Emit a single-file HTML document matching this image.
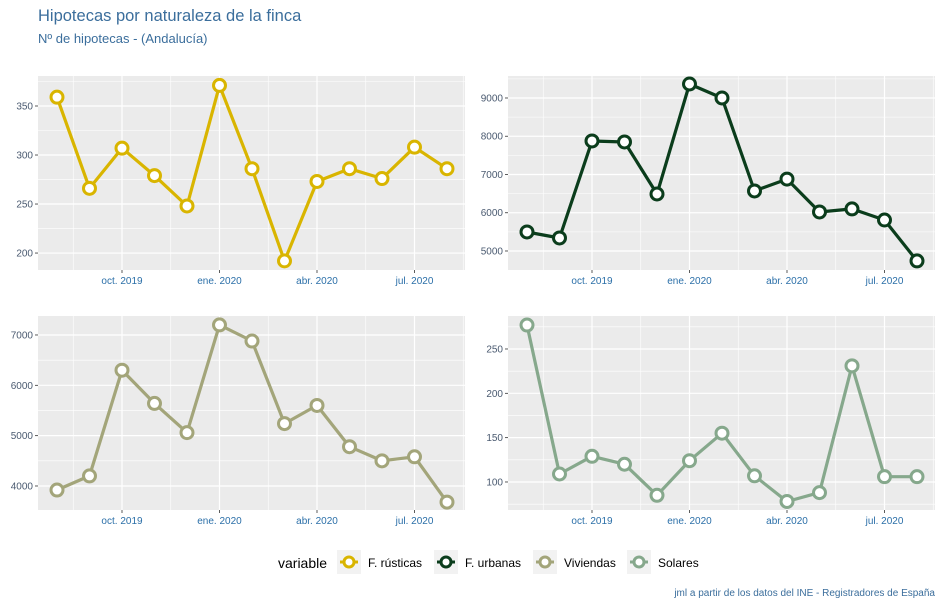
<!DOCTYPE html>
<html><head><meta charset="utf-8">
<style>
body{margin:0;background:#fff;width:944px;height:607px;overflow:hidden;font-family:"Liberation Sans",sans-serif}
svg{display:block}
</style></head>
<body>
<svg id="c" width="944" height="607">
<text x="38" y="21" font-size="16.5" fill="#3b6e9c">Hipotecas por naturaleza de la finca</text>
<text x="38" y="43" font-size="13" fill="#3b6e9c">Nº de hipotecas - (Andalucía)</text>
<text x="935" y="596" font-size="10" fill="#3b6e9c" text-anchor="end">jml a partir de los datos del INE - Registradores de España</text>
</svg>
<script>
const months = ["ago. 2019","sep. 2019","oct. 2019","nov. 2019","dic. 2019","ene. 2020","feb. 2020","mar. 2020","abr. 2020","may. 2020","jun. 2020","jul. 2020","ago. 2020"];
const xTickIdx = [2,5,8,11];
const xTickLabels = ["oct. 2019","ene. 2020","abr. 2020","jul. 2020"];
const seriesNames = ["F. rústicas","F. urbanas","Viviendas","Solares"];
const rusticas = [359,266,307,279,248,371,286,192,273,286,276,308,286];
const urbanas = [5497,5340,7876,7850,6490,9366,9000,6570,6880,6020,6100,5810,4740];
const viviendas = [3920,4200,6300,5640,5060,7200,6880,5240,5600,4780,4500,4580,3680];
const solares = [277,109,129,120,85,124,155,107,78,88,231,106,106];
const ticksR = [200,250,300,350];
const ticksU = [5000,6000,7000,8000,9000];
const ticksV = [4000,5000,6000,7000];
const ticksS = [100,150,200,250];

const svg = document.getElementById('c');
const NS = "http://www.w3.org/2000/svg";
function mk(tag, attrs, parent){const e=document.createElementNS(NS,tag);for(const k in attrs)e.setAttribute(k,attrs[k]);(parent||svg).appendChild(e);return e;}

const panels = [
 {vals:rusticas, ticks:ticksR, color:"#d9b500", x0:38,x1:465,y0:76,y1:270, min:182.7,max:380.6, key:"rusticas"},
 {vals:urbanas, ticks:ticksU, color:"#0b3d1c", x0:508,x1:935,y0:76,y1:270, min:4503,max:9575, key:"urbanas"},
 {vals:viviendas, ticks:ticksV, color:"#a3a57a", x0:38,x1:465,y0:316,y1:510, min:3523,max:7377, key:"viviendas"},
 {vals:solares, ticks:ticksS, color:"#86a88c", x0:508,x1:935,y0:316,y1:510, min:68.4,max:287.2, key:"solares"}
];

panels.forEach(p=>{
  const g = mk('g',{});
  
  
  const n = months.length;
  const step = (p.x1-p.x0-37)/(n-1);
  const xs = i => p.x0+19+i*step;
  const ys = v => p.y1-(v-p.min)/(p.max-p.min)*(p.y1-p.y0);
  const bg = mk('rect',{x:p.x0,y:p.y0,width:p.x1-p.x0,height:p.y1-p.y0,fill:"#ebebeb"},g);
  
  
  const tstep = p.ticks[1]-p.ticks[0];
  for(let v=p.ticks[0]-tstep/2; v<=p.max; v+=tstep){ if(v<p.min) continue;
    mk('line',{x1:p.x0,x2:p.x1,y1:ys(v),y2:ys(v),stroke:"#fff","stroke-width":0.6},g);}
  [0.5,3.5,6.5,9.5,12.5].forEach(i=>{const x=xs(i);if(x<=p.x1) mk('line',{x1:x,x2:x,y1:p.y0,y2:p.y1,stroke:"#fff","stroke-width":0.6},g);});
  p.ticks.forEach(v=>{
    const y=ys(v);
    mk('line',{x1:p.x0,x2:p.x1,y1:y,y2:y,stroke:"#fff","stroke-width":1.2},g);
    mk('line',{x1:p.x0-3,x2:p.x0,y1:y,y2:y,stroke:"#333","stroke-width":0.8},g);
    const t=mk('text',{x:p.x0-5,y:y+3.5,"font-size":10,fill:"#4a5a70","text-anchor":"end"},g);
    t.textContent=v;
    
    
  });
  xTickIdx.forEach((idx,k)=>{
    const x=xs(idx);
    mk('line',{x1:x,x2:x,y1:p.y0,y2:p.y1,stroke:"#fff","stroke-width":1.2},g);
    mk('line',{x1:x,x2:x,y1:p.y1,y2:p.y1+3,stroke:"#333","stroke-width":0.8},g);
    const t=mk('text',{x:x,y:p.y1+14,"font-size":10,fill:"#2b6fa8","text-anchor":"middle"},g);
    t.textContent=xTickLabels[k];
    
    
  });
  const pts=p.vals.map((v,i)=>xs(i).toFixed(1)+","+ys(v).toFixed(1)).join(" ");
  const line=mk('polyline',{points:pts,fill:"none",stroke:p.color,"stroke-width":3.2,"stroke-linejoin":"round"},g);
  
  
  p.vals.forEach((v,i)=>{
    const c=mk('circle',{cx:xs(i),cy:ys(v),r:6,fill:"#fff",stroke:p.color,"stroke-width":3},g);
    
    
  });
});

const lg = mk('g',{});


const lt=mk('text',{x:278,y:568,"font-size":14,fill:"#000"},lg);
lt.textContent="variable";
const legX=[337,434,533,627];
seriesNames.forEach((s,i)=>{
  const e=mk('g',{},lg);
  
  
  mk('rect',{x:legX[i],y:550,width:24,height:24,fill:"#f2f2f2"},e);
  mk('line',{x1:legX[i]+3,x2:legX[i]+21,y1:562,y2:562,stroke:panels[i].color,"stroke-width":3},e);
  mk('circle',{cx:legX[i]+12,cy:562,r:5,fill:"#fff",stroke:panels[i].color,"stroke-width":3},e);
  const t=mk('text',{x:legX[i]+31,y:567,"font-size":12,fill:"#000"},e);
  t.textContent=s;
});
</script>
</body></html>
